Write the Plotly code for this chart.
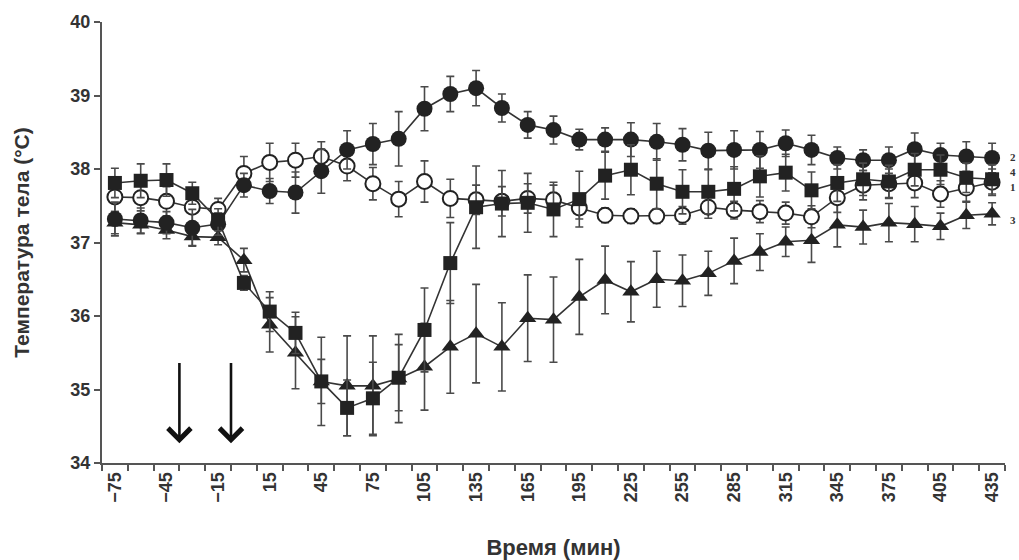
import plotly.graph_objects as go

minutes = [-75, -60, -45, -30, -15, 0, 15, 30, 45, 60, 75, 90, 105, 120, 135, 150, 165, 180,
           195, 210, 225, 240, 255, 270, 285, 300, 315, 330, 345, 360, 375, 390, 405, 420, 435]
tick_labels = [-75, -45, -15, 15, 45, 75, 105, 135, 165, 195, 225, 255, 285, 315, 345, 375, 405, 435]

# series 2: filled circles
s2 = [37.32, 37.30, 37.27, 37.20, 37.25, 37.78, 37.70, 37.68, 37.97, 38.26, 38.34, 38.41, 38.82,
      39.02, 39.10, 38.83, 38.60, 38.53, 38.40, 38.40, 38.40, 38.37, 38.33, 38.25, 38.26, 38.26,
      38.35, 38.26, 38.15, 38.12, 38.12, 38.27, 38.19, 38.17, 38.15]
s2_err = [0.23, 0.17, 0.15, 0.25, 0.15, 0.16, 0.17, 0.28, 0.30, 0.26, 0.28, 0.37, 0.30, 0.24, 0.24,
          0.19, 0.18, 0.19, 0.14, 0.16, 0.23, 0.25, 0.22, 0.25, 0.26, 0.25, 0.18, 0.20, 0.15, 0.14,
          0.18, 0.22, 0.16, 0.20, 0.20]
# series 1: open circles
s1 = [37.62, 37.61, 37.56, 37.48, 37.45, 37.94, 38.09, 38.12, 38.17, 38.04, 37.80, 37.59, 37.83,
      37.60, 37.58, 37.56, 37.60, 37.58, 37.47, 37.37, 37.36, 37.36, 37.37, 37.48, 37.44, 37.42,
      37.40, 37.35, 37.61, 37.78, 37.80, 37.81, 37.66, 37.74, 37.82]
s1_err = [0.20, 0.18, 0.20, 0.20, 0.15, 0.23, 0.26, 0.23, 0.20, 0.20, 0.22, 0.24, 0.28, 0.26, 0.20,
          0.20, 0.20, 0.20, 0.15, 0.10, 0.10, 0.10, 0.12, 0.15, 0.12, 0.15, 0.15, 0.15, 0.20, 0.20,
          0.20, 0.20, 0.18, 0.18, 0.18]
# series 4: filled squares
s4 = [37.81, 37.84, 37.85, 37.67, 37.31, 36.45, 36.06, 35.77, 35.11, 34.75, 34.88, 35.16, 35.81,
      36.72, 37.48, 37.53, 37.54, 37.45, 37.59, 37.91, 37.99, 37.80, 37.69, 37.69, 37.73, 37.90,
      37.95, 37.71, 37.81, 37.86, 37.83, 37.99, 37.99, 37.88, 37.86]
s4_err = [0.20, 0.23, 0.22, 0.15, 0.15, 0.10, 0.27, 0.28, 0.30, 0.38, 0.49, 0.45, 0.57, 0.55, 0.56,
          0.45, 0.40, 0.37, 0.38, 0.32, 0.34, 0.34, 0.30, 0.30, 0.30, 0.28, 0.25, 0.25, 0.25, 0.22,
          0.22, 0.22, 0.20, 0.20, 0.20]
# series 3: filled triangles
s3 = [37.27, 37.24, 37.17, 37.08, 37.07, 36.76, 35.88, 35.50, 35.11, 35.05, 35.05, 35.15, 35.31,
      35.58, 35.76, 35.58, 35.97, 35.95, 36.26, 36.49, 36.33, 36.50, 36.48, 36.58, 36.75, 36.87,
      37.01, 37.03, 37.24, 37.21, 37.27, 37.25, 37.22, 37.37, 37.39]
s3_err = [0.15, 0.12, 0.12, 0.12, 0.10, 0.16, 0.37, 0.49, 0.60, 0.68, 0.68, 0.60, 0.59, 0.63, 0.67,
          0.60, 0.59, 0.58, 0.51, 0.46, 0.41, 0.38, 0.35, 0.30, 0.31, 0.25, 0.20, 0.30, 0.30, 0.23,
          0.26, 0.24, 0.18, 0.18, 0.15]

series_labels = ["2", "4", "1", "3"]
label_y = [38.16, 37.96, 37.76, 37.31]
arrow_x = [-37.5, -7.5]

LINE = "#333333"
ERR = "#4a4a4a"


def trace(y, err, symbol, size, fill, lw=0):
    return go.Scatter(
        x=minutes, y=y, mode="lines+markers",
        line=dict(color=LINE, width=1.6),
        marker=dict(symbol=symbol, size=size, color=fill, line=dict(color="#222222", width=lw)),
        error_y=dict(type="data", array=err, visible=True, color=ERR, thickness=1.6, width=4),
        showlegend=False, hoverinfo="skip",
    )


fig = go.Figure()
fig.add_trace(trace(s3, s3_err, "triangle-up", 15, "#222222"))
fig.add_trace(trace(s1, s1_err, "circle", 15, "white", 2))
fig.add_trace(trace(s2, s2_err, "circle", 16, "#222222"))
fig.add_trace(trace(s4, s4_err, "square", 14, "#222222"))

for ax in arrow_x:
    fig.add_annotation(x=ax, y=34.27, ax=ax, ay=35.38, xref="x", yref="y", axref="x", ayref="y",
                       showarrow=True, arrowhead=4, arrowsize=1.7, arrowwidth=2.6,
                       arrowcolor="#111111", text="")

for lab, ly in zip(series_labels, label_y):
    fig.add_annotation(x=1, y=ly, xref="paper", yref="y", text=f"<b>{lab}</b>", showarrow=False,
                       xanchor="left", xshift=3,
                       font=dict(family="Liberation Serif", size=11, color="#333333"))

fig.update_layout(
    width=1019, height=560,
    margin=dict(l=102, r=14, t=22, b=97),
    paper_bgcolor="white", plot_bgcolor="white",
    font=dict(family="Liberation Sans", color="#333333"),
    xaxis=dict(
        automargin=False,
        range=[-82.5, 442.5], tickmode="array", tickvals=tick_labels,
        ticktext=[f"<b>{'−' + str(-v) if v < 0 else v}</b>" for v in tick_labels],
        tickangle=-90, ticks="", tickfont=dict(size=18, color="#333333"),
        showline=True, linecolor="#555555", linewidth=2, showgrid=False, zeroline=False,
        minor=dict(ticks="outside", tick0=-82.5, dtick=15, ticklen=6, tickwidth=1.5,
                   tickcolor="#555555", showgrid=False),
        title=dict(text="<b>Время (мин)</b>", font=dict(size=22, color="#333333"), standoff=38),
    ),
    yaxis=dict(
        automargin=False,
        range=[34, 40], dtick=1, tick0=34, ticks="outside", ticklen=6, tickwidth=1.5,
        tickcolor="#555555", tickfont=dict(size=18, color="#333333"),
        tickprefix="<b>", ticksuffix="</b>",
        showline=True, linecolor="#555555", linewidth=2, showgrid=False, zeroline=False,
        title=dict(text="<b>Температура тела (°C)</b>", font=dict(size=21, color="#333333"), standoff=35),
    ),
)

fig.write_html("out.html", config={"displayModeBar": False},
               post_script="document.body.style.margin='0';document.body.style.overflow='hidden';")
